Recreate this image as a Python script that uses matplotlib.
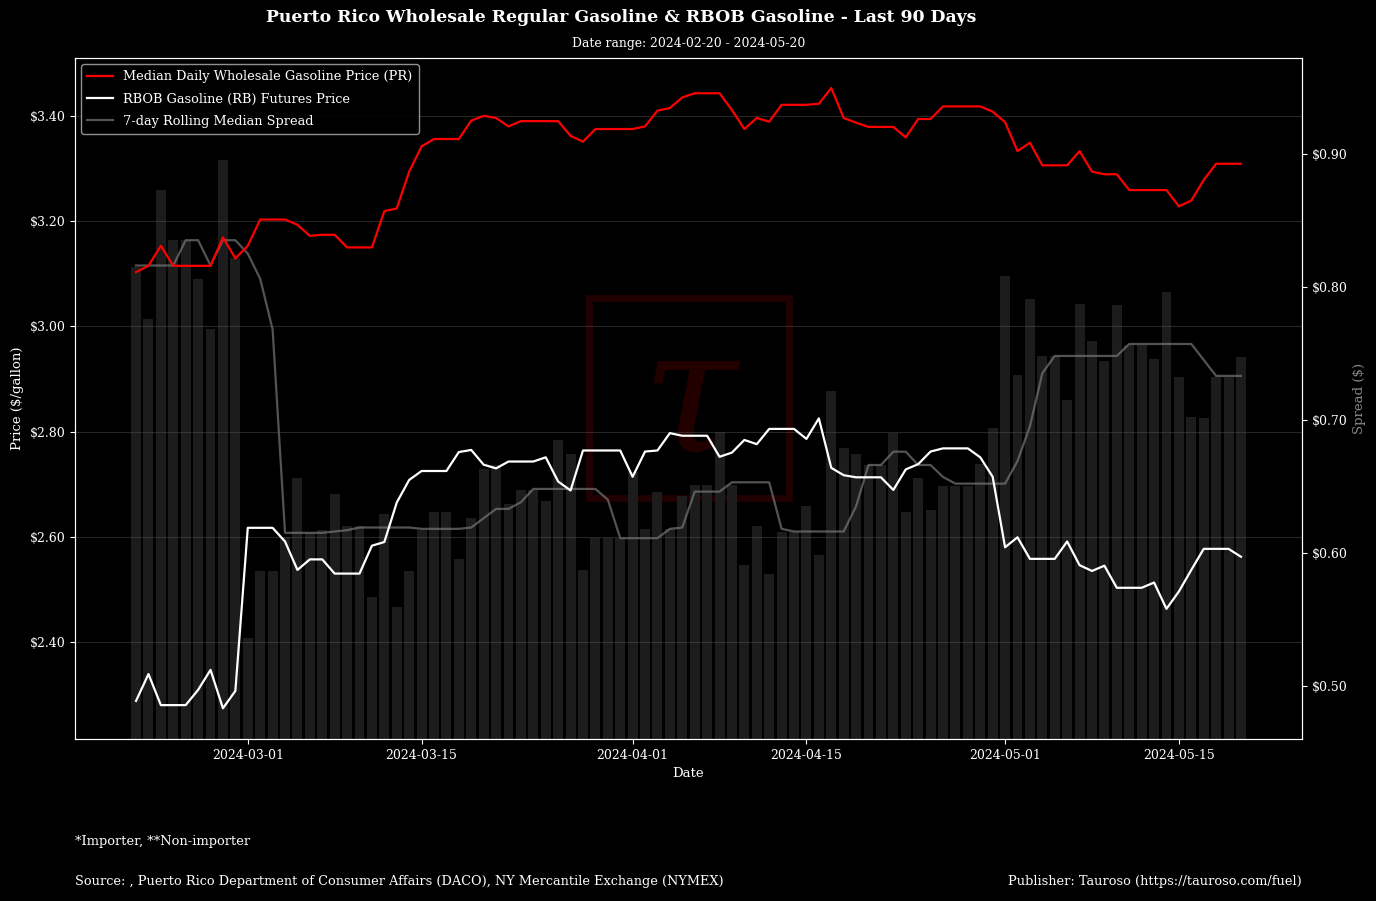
import matplotlib
matplotlib.use("Agg")
import matplotlib.pyplot as plt
from matplotlib.patches import Rectangle
import numpy as np
import pandas as pd

plt.rcParams['font.family'] = ['DejaVu Serif']

start_date = "2024-02-21"
n_days = 90

pr_price = [3.103, 3.115, 3.153, 3.115, 3.115, 3.115, 3.115, 3.169, 3.129, 3.153,
            3.203, 3.203, 3.203, 3.193, 3.172, 3.174, 3.174, 3.150, 3.150, 3.150,
            3.219, 3.224, 3.294, 3.342, 3.356, 3.356, 3.356, 3.391, 3.400, 3.396,
            3.380, 3.390, 3.390, 3.390, 3.390, 3.362, 3.351, 3.375, 3.375, 3.375,
            3.375, 3.380, 3.410, 3.415, 3.435, 3.443, 3.443, 3.443, 3.411, 3.375,
            3.396, 3.389, 3.421, 3.421, 3.421, 3.423, 3.453, 3.396, 3.387, 3.379,
            3.379, 3.379, 3.359, 3.394, 3.394, 3.418, 3.418, 3.418, 3.418, 3.408,
            3.388, 3.333, 3.349, 3.306, 3.306, 3.306, 3.333, 3.294, 3.289, 3.289,
            3.259, 3.259, 3.259, 3.259, 3.228, 3.239, 3.278, 3.309, 3.309, 3.309]

rbob_price = [2.288, 2.339, 2.280, 2.280, 2.280, 2.309, 2.347, 2.274, 2.307, 2.617,
              2.617, 2.617, 2.591, 2.537, 2.557, 2.557, 2.530, 2.530, 2.530, 2.583,
              2.590, 2.665, 2.708, 2.725, 2.725, 2.725, 2.761, 2.765, 2.737, 2.730,
              2.743, 2.743, 2.743, 2.751, 2.705, 2.688, 2.764, 2.764, 2.764, 2.764,
              2.714, 2.762, 2.764, 2.797, 2.792, 2.792, 2.792, 2.752, 2.760, 2.784,
              2.776, 2.805, 2.805, 2.805, 2.786, 2.825, 2.731, 2.717, 2.713, 2.713,
              2.713, 2.689, 2.728, 2.738, 2.762, 2.768, 2.768, 2.768, 2.751, 2.714,
              2.580, 2.599, 2.558, 2.558, 2.558, 2.591, 2.546, 2.535, 2.545, 2.503,
              2.503, 2.503, 2.513, 2.463, 2.496, 2.537, 2.577, 2.577, 2.577, 2.562]

spread = [0.815, 0.776, 0.873, 0.835, 0.835, 0.806, 0.768, 0.895, 0.822, 0.536,
          0.586, 0.586, 0.612, 0.656, 0.615, 0.617, 0.644, 0.620, 0.620, 0.567,
          0.629, 0.559, 0.586, 0.617, 0.631, 0.631, 0.595, 0.626, 0.663, 0.666,
          0.637, 0.647, 0.647, 0.639, 0.685, 0.674, 0.587, 0.611, 0.611, 0.611,
          0.661, 0.618, 0.646, 0.618, 0.643, 0.651, 0.651, 0.691, 0.651, 0.591,
          0.620, 0.584, 0.616, 0.616, 0.635, 0.598, 0.722, 0.679, 0.674, 0.666,
          0.666, 0.690, 0.631, 0.656, 0.632, 0.650, 0.650, 0.650, 0.667, 0.694,
          0.808, 0.734, 0.791, 0.748, 0.748, 0.715, 0.787, 0.759, 0.744, 0.786,
          0.756, 0.756, 0.746, 0.796, 0.732, 0.702, 0.701, 0.732, 0.732, 0.747]

rolling_spread = [0.816, 0.816, 0.816, 0.816, 0.835, 0.835, 0.816, 0.835, 0.835, 0.825,
                  0.806, 0.768, 0.615, 0.615, 0.615, 0.615, 0.616, 0.617, 0.619, 0.619,
                  0.619, 0.619, 0.619, 0.618, 0.618, 0.618, 0.618, 0.619, 0.626, 0.633,
                  0.633, 0.638, 0.648, 0.648, 0.648, 0.648, 0.648, 0.648, 0.640, 0.611,
                  0.611, 0.611, 0.611, 0.618, 0.619, 0.646, 0.646, 0.646, 0.653, 0.653,
                  0.653, 0.653, 0.618, 0.616, 0.616, 0.616, 0.616, 0.616, 0.635, 0.666,
                  0.666, 0.676, 0.676, 0.666, 0.666, 0.657, 0.652, 0.652, 0.652, 0.652,
                  0.652, 0.669, 0.695, 0.735, 0.748, 0.748, 0.748, 0.748, 0.748, 0.748,
                  0.757, 0.757, 0.757, 0.757, 0.757, 0.757, 0.745, 0.733, 0.733, 0.733]

x_ticks = ["2024-03-01", "2024-03-15", "2024-04-01", "2024-04-15", "2024-05-01", "2024-05-15"]
left_ticks = [2.40, 2.60, 2.80, 3.00, 3.20, 3.40]
right_ticks = [0.50, 0.60, 0.70, 0.80, 0.90]

dates = pd.date_range(start_date, periods=n_days, freq="D")

W, H = 1376, 901
fig = plt.figure(figsize=(W / 100, H / 100), dpi=100, facecolor="black")
ax2 = fig.add_axes([75 / W, 1 - 739 / H, (1302 - 75) / W, (739 - 58) / H])
ax1 = ax2.twinx()
ax1.yaxis.tick_left()
ax1.yaxis.set_label_position("left")
ax2.yaxis.tick_right()
ax2.yaxis.set_label_position("right")
ax1.set_zorder(ax2.get_zorder() + 1)
ax1.patch.set_visible(False)
ax2.patch.set_visible(False)

# watermark (behind everything)
fig.patches.append(Rectangle((588.5 / W, 1 - 498.5 / H), (788.5 - 588.5) / W, (498.5 - 298.5) / H,
                             transform=fig.transFigure, fill=False, edgecolor="#200000",
                             lw=5, zorder=-2))
fig.text(689 / W, 1 - 402 / H, "τ", ha="center", va="center", color="#220000",
         fontsize=125, fontstyle="italic", zorder=-2)

# bars and rolling spread
ax2.bar(dates, spread, width=0.8, color="#1c1c1c", zorder=1)
l3, = ax2.plot(dates, rolling_spread, color="#808080", alpha=0.65, lw=1.6,
               label="7-day Rolling Median Spread", zorder=2)

l1, = ax1.plot(dates, pr_price, color="red", lw=1.6,
               label="Median Daily Wholesale Gasoline Price (PR)")
l2, = ax1.plot(dates, rbob_price, color="white", lw=1.6,
               label="RBOB Gasoline (RB) Futures Price")

ax1.set_ylim(2.2156, 3.510)
ax2.set_ylim(0.460, 0.972)
ax1.set_yticks(left_ticks)
ax1.set_yticklabels([f"${v:.2f}" for v in left_ticks])
ax2.set_yticks(right_ticks)
ax2.set_yticklabels([f"${v:.2f}" for v in right_ticks])

xt = pd.to_datetime(x_ticks)
ax2.set_xticks(xt)
ax2.set_xticklabels(x_ticks)
ax2.set_xlim(pd.Timestamp("2024-02-16 02:00"), pd.Timestamp("2024-05-24 22:00"))
ax1.set_xticks(xt)

ax1.grid(True, color="#555555", alpha=0.45, lw=0.8)

for ax in (ax1, ax2):
    for s in ax.spines.values():
        s.set_color("white")
    ax.tick_params(colors="white", labelsize=9)

ax1.set_ylabel("Price ($/gallon)", color="white", fontsize=9.5)
ax2.set_ylabel("Spread ($)", color="#888888", fontsize=9.5)
ax2.set_xlabel("Date", color="white", fontsize=9.5)

leg = ax1.legend(handles=[l1, l2, l3], loc="upper left", fontsize=9.3,
                 facecolor="black", edgecolor="#aaaaaa", framealpha=0.85,
                 labelcolor="white", labelspacing=0.72, borderpad=0.45)

fig.text(621 / W, 1 - 18 / H, "Puerto Rico Wholesale Regular Gasoline & RBOB Gasoline - Last 90 Days",
         ha="center", va="center", color="white", fontsize=12.4, fontweight="bold")
fig.text(688.5 / W, 1 - 44 / H, "Date range: 2024-02-20 - 2024-05-20",
         ha="center", va="center", color="white", fontsize=8.9)
fig.text(75 / W, 1 - 841 / H, "*Importer, **Non-importer", ha="left", va="center",
         color="white", fontsize=9.4)
fig.text(75 / W, 1 - 882 / H,
         "Source: , Puerto Rico Department of Consumer Affairs (DACO), NY Mercantile Exchange (NYMEX)",
         ha="left", va="center", color="white", fontsize=9.3)
fig.text(1302 / W, 1 - 882 / H, "Publisher: Tauroso (https://tauroso.com/fuel)",
         ha="right", va="center", color="white", fontsize=9.3)

fig.savefig("out.png", dpi=100, facecolor="black")
